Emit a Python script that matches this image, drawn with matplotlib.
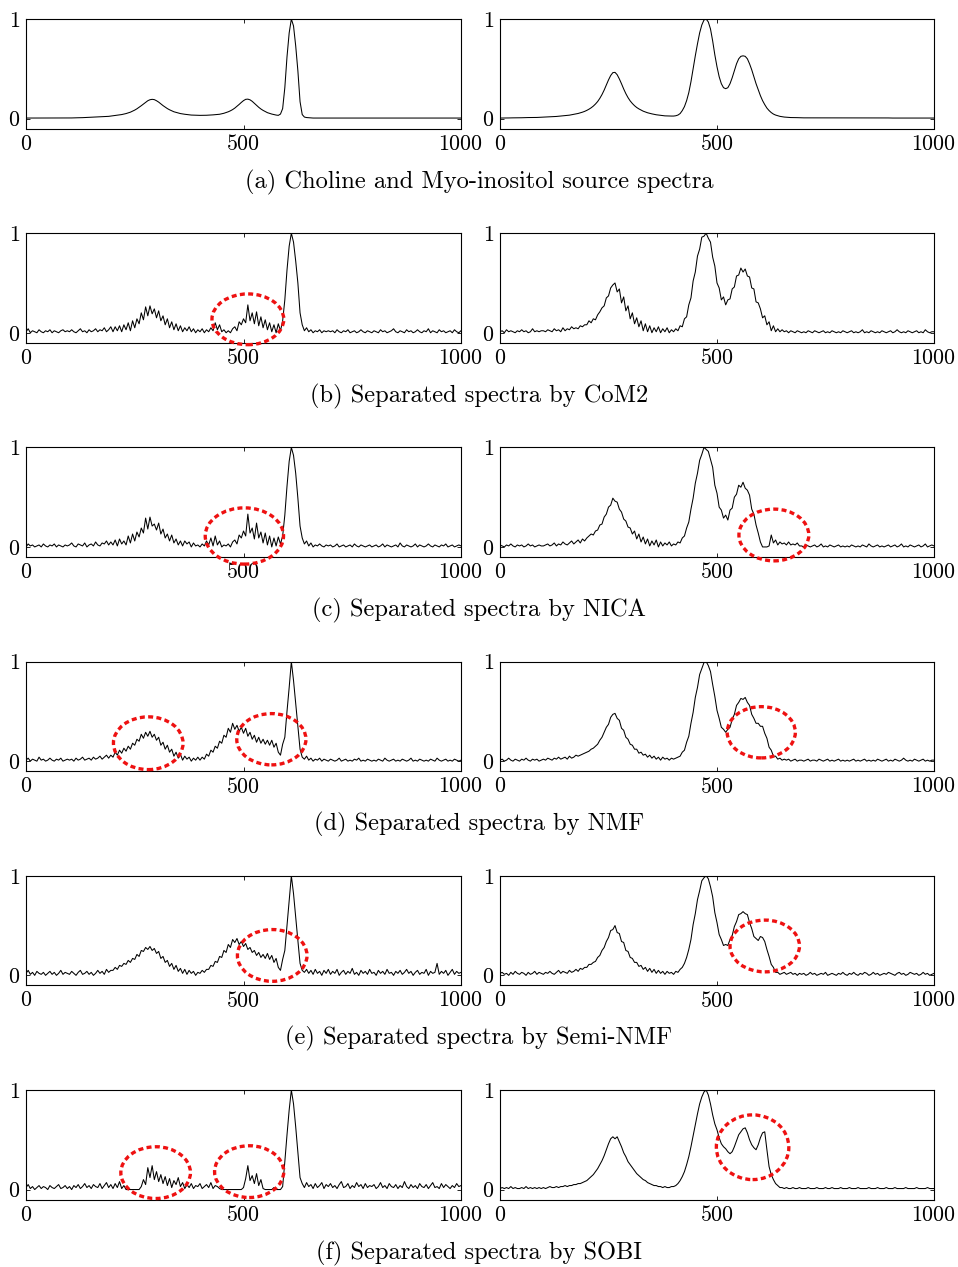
import numpy as np
import matplotlib
matplotlib.use("Agg")
import matplotlib.pyplot as plt
from matplotlib.patches import Ellipse

plt.rcParams["font.family"] = "cmr10"
plt.rcParams["axes.formatter.use_mathtext"] = True
plt.rcParams["mathtext.fontset"] = "cm"

x = np.arange(0, 1001, 5)

# (a) source spectra
SRC_LEFT = [
    0.5, 0.5, 0.5, 0.5, 0.5, 0.5, 0.5, 0.5, 0.5, 0.5, 0.5, 0.5, 0.5, 0.5, 0.5, 0.5, 0.5, 0.5, 0.5, 0.5,
    0.6, 0.6, 0.7, 0.7, 0.8, 0.8, 0.9, 1.0, 1.1, 1.2, 1.3, 1.4, 1.5, 1.6, 1.7, 1.8, 1.9, 2.1, 2.2, 2.5,
    2.7, 3.0, 3.3, 3.6, 4.0, 4.5, 5.0, 5.7, 6.4, 7.4, 8.5, 9.8, 11.3, 12.9, 14.6, 16.4, 17.9, 18.9, 19.3, 19.0,
    17.9, 16.5, 14.7, 13.0, 11.5, 10.0, 8.8, 7.8, 6.8, 6.2, 5.5, 5.0, 4.6, 4.3, 4.0, 3.7, 3.5, 3.4, 3.3, 3.2,
    3.2, 3.2, 3.2, 3.3, 3.4, 3.5, 3.7, 3.9, 4.2, 4.3, 4.8, 5.3, 6.0, 6.8, 7.8, 9.0, 10.5, 12.3, 14.2, 16.2,
    18.0, 19.3, 19.5, 18.8, 17.3, 15.3, 13.3, 11.3, 9.6, 8.2, 7.0, 5.9, 5.2, 4.5, 4.0, 3.5, 3.2, 4.5, 10, 31,
    62, 86, 100, 93, 73, 48, 17, 4, 1.5, 1.0, 0.8, 0.5, 0.5, 0.5, 0.5, 0.5, 0.5, 0.5, 0.5, 0.5,
    0.5, 0.5, 0.5, 0.5, 0.5, 0.5, 0.5, 0.5, 0.5, 0.5, 0.5, 0.5, 0.5, 0.5, 0.5, 0.5, 0.5, 0.5, 0.5, 0.5,
    0.5, 0.5, 0.5, 0.5, 0.5, 0.5, 0.5, 0.5, 0.5, 0.5, 0.5, 0.5, 0.5, 0.5, 0.5, 0.5, 0.5, 0.5, 0.5, 0.5,
    0.5, 0.5, 0.5, 0.5, 0.5, 0.5, 0.5, 0.5, 0.5, 0.5, 0.5, 0.5, 0.5, 0.5, 0.5, 0.5, 0.5, 0.5, 0.5, 0.5,
    0.5]
SRC_RIGHT = [
    0.5, 0.5, 0.6, 0.6, 0.6, 0.7, 0.7, 0.7, 0.8, 0.8, 0.8, 0.9, 0.9, 1.0, 1.0, 1.0, 1.1, 1.1, 1.2, 1.3,
    1.4, 1.5, 1.6, 1.7, 1.8, 2.0, 2.1, 2.3, 2.5, 2.7, 2.9, 3.1, 3.4, 3.8, 4.2, 4.6, 5.1, 5.7, 6.4, 7.2,
    8.2, 9.4, 10.8, 12.5, 14.6, 17.1, 20.3, 24.1, 28.6, 33.6, 38.8, 43.2, 46.1, 46.4, 44.0, 39.8, 34.9, 29.7, 25.0, 21.0,
    17.7, 15.1, 12.9, 11.1, 9.7, 8.5, 7.4, 6.6, 5.8, 5.2, 4.7, 4.2, 3.8, 3.5, 3.2, 2.9, 2.7, 2.6, 2.5, 2.5,
    2.5, 2.8, 3.5, 5, 8, 12, 18, 26, 37, 50, 63, 75, 86, 94, 99, 100, 97, 90, 78, 64,
    52, 42, 35, 31, 30, 31, 35, 41, 48, 55, 60, 62.5, 63, 62.5, 60, 55, 49, 42, 35, 29,
    23, 18, 14, 10.5, 8, 6, 4.5, 3.5, 2.8, 2.2, 1.8, 1.5, 1.3, 1.1, 1.0, 1.0, 0.9, 0.9, 0.8, 0.8,
    0.7, 0.7, 0.7, 0.7, 0.7, 0.7, 0.7, 0.7, 0.7, 0.7, 0.7, 0.7, 0.7, 0.7, 0.7, 0.7, 0.7, 0.7, 0.7, 0.7,
    0.6, 0.6, 0.6, 0.6, 0.6, 0.6, 0.6, 0.6, 0.6, 0.6, 0.6, 0.6, 0.6, 0.6, 0.6, 0.6, 0.6, 0.6, 0.6, 0.6,
    0.5, 0.5, 0.5, 0.5, 0.5, 0.5, 0.5, 0.5, 0.5, 0.5, 0.5, 0.5, 0.5, 0.5, 0.5, 0.5, 0.5, 0.5, 0.5, 0.5,
    0.5]

# (b) CoM2
B_LEFT = [
    1, 4, 0, 2, 1, 0, 3, 1, 0, 2, 1, 3, 0, 2, 1, 0, 2, 3, 1, 2,
    1, 3, 1, 0, 2, 4, 1, 2, 0, 3, 1, 2, 4, 1, 3, 2, 5, 1, 3, 6,
    1, 6, 2, 7, 1, 8, 3, 10, 2, 12, 5, 14, 9, 20, 13, 26, 17, 27, 19, 24,
    15, 22, 12, 17, 8, 14, 5, 11, 3, 9, 2, 7, 1, 5, 2, 6, 1, 4, 0, 3,
    1, 4, 0, 3, 1, 5, 2, 10, 3, 8, 1, 3, 0, 2, 0, 4, 6, 2, 11, 8,
    14, 10, 28, 12, 20, 9, 21, 7, 16, 5, 13, 3, 10, 1, 8, 0, 9, 2, 12, 33,
    63, 87, 100, 91, 72, 50, 20, 8, 2, 5, 1, 3, 0, 2, 1, 3, 0, 2, 1, 2,
    1, 2, 0, 3, 1, 0, 2, 1, 3, 0, 1, 2, 0, 1, 3, 1, 0, 2, 1, 0,
    2, 1, 0, 3, 1, 2, 0, 1, 2, 4, 1, 0, 2, 1, 0, 3, 1, 2, 0, 1,
    3, 1, 0, 2, 1, 4, 0, 2, 1, 0, 3, 1, 2, 0, 1, 2, 0, 3, 1, 0,
    2]
B_RIGHT = [
    1, 2, 0, 3, 1, 2, 1, 0, 2, 1, 3, 1, 2, 0, 1, 4, 1, 2, 1, 2,
    2, 1, 3, 2, 1, 4, 2, 3, 1, 5, 2, 4, 3, 6, 4, 5, 4, 7, 6, 8,
    8, 12, 10, 14, 13, 18, 21, 25, 27, 35, 37, 45, 48, 50, 41, 44, 30, 36, 22, 27,
    14, 20, 9, 15, 6, 12, 2, 9, 1, 7, 0, 5, 1, 6, 0, 4, 1, 5, 0, 3,
    1, 4, 2, 7, 6, 14, 16, 28, 35, 52, 61, 77, 84, 96, 97, 100, 95, 91, 76, 67,
    50, 45, 33, 36, 28, 33, 34, 44, 46, 57, 58, 65, 61, 64, 57, 56, 45, 44, 31, 30,
    24, 15, 17, 8, 11, 2, 7, 1, 4, 1, 3, 1, 2, 0, 2, 1, 0, 2, 1, 0,
    1, 0, 2, 1, 0, 2, 1, 0, 1, 2, 0, 1, 0, 2, 1, 0, 1, 0, 2, 1,
    0, 1, 2, 0, 1, 0, 1, 3, 0, 1, 0, 2, 1, 0, 1, 0, 2, 1, 0, 1,
    2, 0, 1, 3, 1, 0, 1, 0, 2, 1, 0, 1, 2, 0, 1, 0, 3, 1, 0, 1,
    1]

# (c) NICA
C_LEFT = [
    0, 3, 1, 2, 0, 1, 2, 0, 3, 1, 0, 2, 1, 3, 0, 2, 1, 0, 2, 1,
    2, 4, 1, 0, 3, 2, 1, 4, 0, 2, 3, 1, 5, 2, 1, 4, 3, 6, 2, 5,
    2, 7, 1, 8, 3, 6, 2, 11, 4, 13, 6, 15, 10, 19, 14, 29, 18, 30, 21, 23,
    17, 24, 13, 18, 9, 13, 6, 12, 4, 8, 2, 6, 1, 6, 3, 5, 0, 4, 1, 2,
    0, 3, 1, 6, 2, 9, 1, 11, 2, 6, 0, 2, 1, 3, 0, 5, 7, 3, 12, 9,
    16, 11, 33, 14, 19, 8, 24, 9, 15, 4, 14, 2, 11, 0, 9, 1, 10, 3, 11, 32,
    61, 86, 100, 92, 74, 49, 21, 9, 3, 6, 1, 4, 0, 2, 1, 3, 1, 0, 2, 1,
    2, 0, 1, 3, 0, 1, 2, 0, 1, 2, 0, 3, 1, 0, 2, 1, 0, 1, 2, 0,
    1, 2, 0, 1, 3, 0, 2, 1, 0, 1, 2, 0, 4, 1, 0, 2, 1, 0, 1, 3,
    0, 2, 1, 0, 1, 3, 1, 0, 2, 1, 0, 2, 1, 3, 0, 1, 2, 0, 1, 2,
    1]
C_RIGHT = [
    2, 1, 0, 2, 1, 3, 1, 0, 2, 1, 2, 0, 1, 3, 1, 2, 0, 1, 2, 1,
    1, 2, 3, 1, 2, 4, 1, 3, 2, 5, 3, 2, 4, 6, 3, 5, 7, 4, 8, 6,
    9, 11, 13, 12, 16, 17, 22, 23, 30, 33, 40, 42, 49, 46, 45, 38, 35, 28, 26, 20,
    19, 13, 16, 8, 13, 5, 10, 3, 8, 1, 6, 2, 7, 0, 5, 1, 4, 2, 5, 1,
    3, 2, 5, 4, 9, 11, 19, 25, 38, 49, 64, 74, 87, 93, 100, 98, 96, 88, 80, 62,
    54, 40, 37, 29, 32, 27, 37, 39, 50, 53, 62, 60, 65, 59, 57, 52, 38, 33, 22, 14,
    5, 0, 0, 0, 1, 12, 4, 7, 2, 5, 3, 4, 2, 5, 2, 3, 2, 4, 1, 1,
    0, 2, 1, 0, 1, 2, 0, 1, 3, 0, 1, 0, 2, 1, 0, 1, 2, 0, 1, 0,
    1, 0, 2, 1, 0, 1, 0, 2, 1, 0, 3, 1, 0, 1, 2, 0, 1, 0, 1, 2,
    0, 1, 2, 0, 1, 3, 0, 1, 0, 2, 1, 0, 1, 2, 0, 1, 3, 0, 1, 2,
    1]

# (d) NMF
D_LEFT = [
    1, 3, 0, 2, 1, 0, 4, 1, 2, 0, 1, 3, 1, 0, 2, 1, 3, 0, 1, 2,
    1, 2, 0, 3, 1, 2, 4, 1, 2, 3, 1, 4, 2, 3, 5, 2, 4, 6, 3, 6,
    4, 9, 6, 11, 8, 13, 10, 15, 12, 18, 16, 22, 20, 27, 23, 29, 25, 30, 24, 27,
    21, 24, 16, 19, 12, 16, 9, 12, 5, 9, 3, 7, 1, 5, 2, 4, 0, 3, 1, 4,
    1, 4, 2, 7, 5, 11, 9, 15, 13, 20, 18, 26, 24, 33, 29, 38, 32, 36, 30, 34,
    28, 33, 25, 29, 22, 26, 19, 24, 18, 22, 17, 21, 16, 21, 14, 18, 9, 6, 17, 24,
    50, 74, 100, 81, 58, 35, 12, 4, 2, 5, 1, 3, 0, 2, 1, 3, 0, 2, 1, 0,
    2, 1, 0, 1, 3, 0, 1, 2, 0, 1, 0, 2, 1, 3, 0, 1, 0, 2, 1, 0,
    1, 0, 2, 1, 0, 3, 1, 0, 1, 2, 0, 1, 0, 2, 1, 0, 1, 3, 0, 1,
    0, 2, 1, 0, 1, 0, 2, 1, 0, 3, 1, 0, 1, 2, 0, 1, 0, 2, 1, 0,
    1]
D_RIGHT = [
    1, 2, 0, 1, 3, 1, 0, 2, 1, 0, 2, 1, 3, 1, 0, 2, 1, 2, 0, 1,
    2, 1, 3, 2, 1, 3, 2, 4, 2, 3, 4, 2, 5, 3, 4, 6, 5, 6, 7, 8,
    9, 10, 12, 13, 15, 17, 21, 24, 29, 34, 37, 44, 47, 48, 43, 41, 33, 31, 24, 22,
    17, 16, 12, 12, 8, 9, 6, 7, 4, 6, 3, 5, 2, 4, 1, 4, 2, 3, 1, 3,
    2, 3, 4, 5, 9, 11, 19, 25, 38, 49, 64, 74, 87, 93, 99, 100, 96, 90, 77, 65,
    51, 43, 34, 32, 29, 32, 34, 42, 47, 56, 59, 63, 62, 64, 59, 56, 47, 43, 38, 38,
    35, 35, 28, 23, 14, 11, 5, 5, 2, 3, 1, 2, 1, 2, 0, 1, 2, 0, 1, 1,
    0, 1, 2, 0, 1, 1, 0, 2, 1, 0, 1, 2, 0, 1, 0, 1, 2, 0, 1, 0,
    1, 0, 1, 2, 0, 1, 0, 1, 2, 0, 1, 0, 1, 0, 2, 1, 0, 1, 2, 0,
    1, 0, 2, 1, 0, 1, 3, 1, 0, 1, 0, 2, 1, 0, 1, 2, 0, 1, 0, 1,
    1]

# (e) Semi-NMF
E_LEFT = [
    2, 5, 1, 3, 0, 4, 2, 1, 3, 0, 2, 4, 1, 3, 0, 2, 5, 1, 3, 2,
    1, 4, 2, 0, 3, 5, 1, 2, 4, 1, 3, 0, 2, 5, 2, 4, 1, 6, 3, 5,
    5, 8, 6, 10, 9, 12, 11, 15, 13, 17, 16, 21, 19, 25, 24, 28, 26, 29, 25, 27,
    22, 24, 17, 19, 13, 15, 9, 12, 6, 10, 4, 7, 2, 6, 1, 5, 2, 4, 0, 3,
    2, 5, 3, 6, 6, 10, 9, 14, 13, 19, 18, 25, 23, 31, 28, 36, 33, 37, 31, 34,
    29, 32, 26, 28, 23, 25, 20, 23, 18, 21, 17, 22, 16, 20, 13, 17, 8, 5, 16, 25,
    50, 74, 100, 82, 58, 35, 12, 5, 3, 6, 2, 5, 1, 6, 2, 4, 0, 5, 2, 6,
    1, 4, 2, 6, 0, 3, 5, 1, 4, 2, 7, 1, 3, 0, 5, 2, 4, 1, 6, 2,
    3, 0, 5, 2, 4, 1, 6, 2, 3, 0, 4, 2, 5, 1, 3, 6, 2, 4, 0, 3,
    5, 1, 3, 2, 6, 0, 4, 2, 3, 12, 1, 4, 2, 5, 0, 3, 6, 1, 4, 2,
    3]
E_RIGHT = [
    2, 3, 1, 2, 0, 3, 1, 4, 2, 1, 3, 2, 0, 3, 1, 2, 4, 1, 3, 2,
    1, 3, 2, 4, 2, 1, 3, 5, 2, 4, 3, 2, 5, 3, 4, 6, 4, 7, 6, 8,
    8, 11, 11, 13, 14, 18, 20, 25, 28, 34, 38, 45, 46, 50, 43, 42, 34, 33, 25, 24,
    18, 17, 13, 13, 9, 10, 6, 8, 4, 7, 3, 6, 2, 5, 2, 4, 1, 4, 2, 3,
    1, 4, 3, 6, 8, 12, 18, 26, 36, 51, 62, 76, 85, 95, 98, 100, 97, 89, 79, 63,
    53, 41, 36, 30, 31, 30, 36, 40, 49, 54, 61, 62, 64, 62, 61, 53, 47, 39, 37, 35,
    39, 38, 34, 26, 19, 11, 8, 3, 3, 1, 2, 3, 1, 2, 3, 1, 2, 0, 2, 1,
    2, 0, 1, 3, 1, 2, 0, 1, 2, 1, 3, 0, 1, 2, 1, 0, 2, 1, 3, 1,
    0, 2, 1, 3, 1, 0, 2, 1, 3, 2, 0, 1, 3, 1, 2, 0, 1, 2, 1, 3,
    2, 1, 0, 2, 3, 1, 2, 0, 1, 3, 2, 1, 2, 0, 1, 3, 1, 2, 0, 1,
    2]

# (f) SOBI
F_LEFT = [
    2, 5, 1, 3, 0, 2, 4, 1, 3, 2, 0, 4, 2, 1, 3, 5, 1, 2, 4, 1,
    3, 0, 4, 2, 5, 1, 3, 6, 2, 4, 1, 5, 3, 2, 6, 1, 4, 7, 2, 5,
    1, 6, 2, 8, 1, 4, 0, 0, 0, 0, 0, 0, 0, 3, 10, 5, 22, 12, 24, 10,
    18, 8, 15, 6, 13, 4, 11, 2, 9, 5, 12, 3, 7, 1, 5, 2, 6, 1, 4, 3,
    6, 1, 3, 5, 2, 7, 1, 4, 3, 1, 0, 0, 0, 0, 0, 0, 0, 0, 0, 0,
    2, 11, 24, 9, 14, 6, 16, 4, 10, 1, 0, 0, 0, 0, 2, 0, 0, 0, 3, 28,
    55, 80, 100, 86, 63, 38, 12, 6, 2, 7, 3, 5, 1, 6, 2, 4, 7, 1, 5, 3,
    6, 2, 4, 1, 5, 8, 2, 3, 6, 1, 4, 2, 7, 3, 5, 1, 6, 2, 4, 3,
    5, 1, 3, 7, 2, 4, 1, 6, 3, 2, 5, 1, 4, 2, 8, 3, 1, 5, 2, 4,
    1, 6, 3, 2, 5, 1, 4, 7, 2, 3, 1, 6, 2, 5, 3, 1, 4, 2, 6, 3,
    4]
F_RIGHT = [
    1, 2, 1, 2, 1, 3, 1, 2, 1, 1, 2, 1, 3, 1, 2, 1, 2, 1, 2, 1,
    2, 1, 2, 3, 2, 2, 3, 2, 3, 3, 4, 3, 4, 4, 5, 5, 6, 6, 7, 8,
    9, 11, 13, 15, 18, 21, 25, 29, 34, 40, 46, 51, 53, 51, 53, 48, 43, 37, 33, 28,
    25, 22, 19, 16, 14, 12, 10, 9, 7, 6, 5, 4, 4, 3, 3, 2, 3, 2, 2, 3,
    3, 4, 6, 9, 13, 18, 25, 33, 43, 54, 65, 76, 86, 93, 98, 100, 95, 86, 75, 66,
    60, 52, 46, 43, 41, 38, 36, 38, 43, 49, 55, 58, 61, 62, 57, 50, 45, 42, 40, 45,
    52, 57, 58, 40, 23, 15, 10, 6, 4, 2, 2, 1, 2, 1, 1, 2, 1, 1, 2, 1,
    1, 1, 2, 1, 1, 1, 2, 1, 1, 1, 2, 1, 1, 2, 1, 1, 1, 2, 1, 1,
    1, 2, 1, 1, 1, 2, 1, 1, 1, 1, 2, 1, 1, 1, 2, 1, 1, 1, 2, 1,
    1, 1, 2, 1, 1, 1, 1, 2, 1, 1, 1, 1, 2, 1, 1, 1, 1, 2, 1, 1,
    1]

CAPTIONS = [
    "(a) Choline and Myo-inositol source spectra",
    "(b) Separated spectra by CoM2",
    "(c) Separated spectra by NICA",
    "(d) Separated spectra by NMF",
    "(e) Separated spectra by Semi-NMF",
    "(f) Separated spectra by SOBI",
]
PANELS = [
    [SRC_LEFT, SRC_RIGHT],
    [B_LEFT, B_RIGHT],
    [C_LEFT, C_RIGHT],
    [D_LEFT, D_RIGHT],
    [E_LEFT, E_RIGHT],
    [F_LEFT, F_RIGHT],
]
X_TICKS = [0, 500, 1000]
Y_TICKS = [0, 1]

# highlight ellipses: (row, column, centre x, centre y, width, height)
HIGHLIGHTS = [
    (1, 0, 510, 0.135, 165, 0.51),
    (2, 0, 502, 0.11, 180, 0.565),
    (2, 1, 631, 0.12, 161, 0.52),
    (3, 0, 281, 0.18, 160, 0.53),
    (3, 0, 564, 0.22, 159, 0.515),
    (3, 1, 602, 0.29, 157, 0.515),
    (4, 0, 566, 0.20, 160, 0.52),
    (4, 1, 610, 0.295, 160, 0.52),
    (5, 0, 298, 0.17, 160, 0.52),
    (5, 0, 513, 0.18, 159, 0.52),
    (5, 1, 582, 0.425, 167, 0.65),
]

W, H = 958, 1267
fig = plt.figure(figsize=(W / 100, H / 100), dpi=100)
col_left = [26, 500]
col_width = [435, 434]
row_top0, row_pitch, ax_h = 19, 214.2, 109.5
cap_y0 = 182

axes = {}
for r, (series_pair, caption) in enumerate(zip(PANELS, CAPTIONS)):
    top = row_top0 + row_pitch * r
    for c in range(2):
        ax = fig.add_axes([col_left[c] / W, 1 - (top + ax_h) / H, col_width[c] / W, ax_h / H])
        y = np.asarray(series_pair[c], dtype=float) / 100.0
        ax.plot(x, y, color="black", lw=0.75)
        ax.set_xlim(0, 1000)
        ax.set_ylim(-0.1, 1.0)
        ax.set_xticks(X_TICKS)
        ax.set_yticks(Y_TICKS)
        ax.tick_params(direction="in", length=3, width=0.6, top=True, right=True,
                       labelsize=15.8, pad=4, colors="black")
        for s in ax.spines.values():
            s.set_linewidth(0.8)
        axes[(r, c)] = ax
    fig.text(0.5, 1 - (cap_y0 + row_pitch * r) / H, caption, ha="center", va="center",
             fontsize=17.6)

for (r, c, cx, cy, w, h) in HIGHLIGHTS:
    e = Ellipse((cx, cy), w, h, fill=False, edgecolor="#ee1111", lw=2.4,
                linestyle=(0, (1.5, 1.0)), clip_on=False, zorder=5)
    axes[(r, c)].add_patch(e)

fig.savefig("out.png", dpi=100)
